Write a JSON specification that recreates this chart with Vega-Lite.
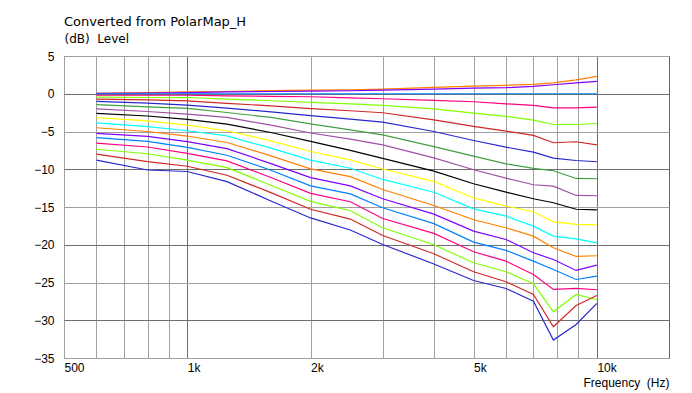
{
"$schema":"https://vega.github.io/schema/vega-lite/v6.json",
"width":605,"height":302,
"autosize":{"type":"none"},
"padding":{"left":64,"top":56,"right":23,"bottom":35},
"background":"white",
"title":{"text":"Converted from PolarMap_H","anchor":"start","frame":"group","font":"DejaVu Sans","fontSize":13,"fontWeight":"normal","color":"#000000","offset":4},
"config":{"view":{"stroke":"#646464","strokeWidth":1},"axis":{"labelFont":"Liberation Sans","labelFontSize":12,"labelColor":"#000000","titleFont":"DejaVu Sans","titleFontSize":12,"titleFontWeight":"normal","titleColor":"#000000"}},
"data":{"values":[
{"s":"c01","f":600,"v":0.05},{"s":"c01","f":800,"v":0.15},{"s":"c01","f":1000,"v":0.25},{"s":"c01","f":1250,"v":0.3},{"s":"c01","f":1600,"v":0.42},{"s":"c01","f":2000,"v":0.47},{"s":"c01","f":2500,"v":0.52},{"s":"c01","f":3000,"v":0.6},{"s":"c01","f":4000,"v":0.85},{"s":"c01","f":5000,"v":1.0},{"s":"c01","f":6000,"v":1.12},{"s":"c01","f":7000,"v":1.25},{"s":"c01","f":7830,"v":1.45},{"s":"c01","f":8900,"v":1.85},{"s":"c01","f":10000,"v":2.3},
{"s":"c02","f":600,"v":0.05},{"s":"c02","f":800,"v":0.1},{"s":"c02","f":1000,"v":0.15},{"s":"c02","f":1250,"v":0.25},{"s":"c02","f":1600,"v":0.3},{"s":"c02","f":2000,"v":0.35},{"s":"c02","f":2500,"v":0.4},{"s":"c02","f":3000,"v":0.47},{"s":"c02","f":4000,"v":0.62},{"s":"c02","f":5000,"v":0.75},{"s":"c02","f":6000,"v":0.8},{"s":"c02","f":7000,"v":0.97},{"s":"c02","f":7830,"v":1.19},{"s":"c02","f":8900,"v":1.45},{"s":"c02","f":10000,"v":1.63},
{"s":"c03","f":600,"v":0},{"s":"c03","f":800,"v":0},{"s":"c03","f":1000,"v":0},{"s":"c03","f":1250,"v":0},{"s":"c03","f":1600,"v":0},{"s":"c03","f":2000,"v":0},{"s":"c03","f":2500,"v":0},{"s":"c03","f":3000,"v":0},{"s":"c03","f":4000,"v":0},{"s":"c03","f":5000,"v":0},{"s":"c03","f":6000,"v":0},{"s":"c03","f":7000,"v":0},{"s":"c03","f":7830,"v":0},{"s":"c03","f":8900,"v":0},{"s":"c03","f":10000,"v":0},
{"s":"c04","f":600,"v":-0.2},{"s":"c04","f":800,"v":-0.2},{"s":"c04","f":1000,"v":-0.2},{"s":"c04","f":1250,"v":-0.27},{"s":"c04","f":1600,"v":-0.35},{"s":"c04","f":2000,"v":-0.4},{"s":"c04","f":2500,"v":-0.55},{"s":"c04","f":3000,"v":-0.66},{"s":"c04","f":4000,"v":-0.88},{"s":"c04","f":5000,"v":-1.06},{"s":"c04","f":6000,"v":-1.33},{"s":"c04","f":7000,"v":-1.55},{"s":"c04","f":7830,"v":-1.86},{"s":"c04","f":8900,"v":-1.86},{"s":"c04","f":10000,"v":-1.77},
{"s":"c05","f":600,"v":-0.45},{"s":"c05","f":800,"v":-0.5},{"s":"c05","f":1000,"v":-0.5},{"s":"c05","f":1250,"v":-0.7},{"s":"c05","f":1600,"v":-0.93},{"s":"c05","f":2000,"v":-1.15},{"s":"c05","f":2500,"v":-1.33},{"s":"c05","f":3000,"v":-1.55},{"s":"c05","f":4000,"v":-2.0},{"s":"c05","f":5000,"v":-2.57},{"s":"c05","f":6000,"v":-3.0},{"s":"c05","f":7000,"v":-3.49},{"s":"c05","f":7830,"v":-4.07},{"s":"c05","f":8900,"v":-4.07},{"s":"c05","f":10000,"v":-3.94},
{"s":"c06","f":600,"v":-0.7},{"s":"c06","f":800,"v":-0.8},{"s":"c06","f":1000,"v":-0.95},{"s":"c06","f":1250,"v":-1.28},{"s":"c06","f":1600,"v":-1.6},{"s":"c06","f":2000,"v":-1.97},{"s":"c06","f":2500,"v":-2.25},{"s":"c06","f":3000,"v":-2.52},{"s":"c06","f":4000,"v":-3.45},{"s":"c06","f":5000,"v":-4.33},{"s":"c06","f":6000,"v":-4.95},{"s":"c06","f":7000,"v":-5.52},{"s":"c06","f":7830,"v":-6.49},{"s":"c06","f":8900,"v":-6.36},{"s":"c06","f":10000,"v":-6.76},
{"s":"c07","f":600,"v":-1.0},{"s":"c07","f":800,"v":-1.25},{"s":"c07","f":1000,"v":-1.5},{"s":"c07","f":1250,"v":-1.9},{"s":"c07","f":1600,"v":-2.39},{"s":"c07","f":2000,"v":-2.9},{"s":"c07","f":2500,"v":-3.36},{"s":"c07","f":3000,"v":-3.76},{"s":"c07","f":4000,"v":-5.0},{"s":"c07","f":5000,"v":-6.19},{"s":"c07","f":6000,"v":-7.07},{"s":"c07","f":7000,"v":-7.73},{"s":"c07","f":7830,"v":-8.53},{"s":"c07","f":8900,"v":-8.84},{"s":"c07","f":10000,"v":-9.01},
{"s":"c08","f":600,"v":-1.45},{"s":"c08","f":800,"v":-1.75},{"s":"c08","f":1000,"v":-1.95},{"s":"c08","f":1250,"v":-2.48},{"s":"c08","f":1600,"v":-3.14},{"s":"c08","f":2000,"v":-4.0},{"s":"c08","f":2500,"v":-4.78},{"s":"c08","f":3000,"v":-5.44},{"s":"c08","f":4000,"v":-7.0},{"s":"c08","f":5000,"v":-8.26},{"s":"c08","f":6000,"v":-9.28},{"s":"c08","f":7000,"v":-9.89},{"s":"c08","f":7830,"v":-10.2},{"s":"c08","f":8900,"v":-11.22},{"s":"c08","f":10000,"v":-11.26},
{"s":"c09","f":600,"v":-2.0},{"s":"c09","f":800,"v":-2.35},{"s":"c09","f":1000,"v":-2.7},{"s":"c09","f":1250,"v":-3.14},{"s":"c09","f":1600,"v":-4.16},{"s":"c09","f":2000,"v":-5.2},{"s":"c09","f":2500,"v":-6.0},{"s":"c09","f":3000,"v":-6.77},{"s":"c09","f":4000,"v":-8.5},{"s":"c09","f":5000,"v":-10.07},{"s":"c09","f":6000,"v":-11.17},{"s":"c09","f":7000,"v":-12.05},{"s":"c09","f":7830,"v":-12.23},{"s":"c09","f":8900,"v":-13.47},{"s":"c09","f":10000,"v":-13.51},
{"s":"c10","f":600,"v":-2.6},{"s":"c10","f":800,"v":-2.95},{"s":"c10","f":1000,"v":-3.4},{"s":"c10","f":1250,"v":-4.03},{"s":"c10","f":1600,"v":-5.13},{"s":"c10","f":2000,"v":-6.3},{"s":"c10","f":2500,"v":-7.5},{"s":"c10","f":3000,"v":-8.55},{"s":"c10","f":4000,"v":-10.25},{"s":"c10","f":5000,"v":-11.92},{"s":"c10","f":6000,"v":-13.03},{"s":"c10","f":7000,"v":-13.91},{"s":"c10","f":7830,"v":-14.44},{"s":"c10","f":8900,"v":-15.3},{"s":"c10","f":10000,"v":-15.37},
{"s":"c11","f":600,"v":-3.15},{"s":"c11","f":800,"v":-3.6},{"s":"c11","f":1000,"v":-4.15},{"s":"c11","f":1250,"v":-4.9},{"s":"c11","f":1600,"v":-6.24},{"s":"c11","f":2000,"v":-7.65},{"s":"c11","f":2500,"v":-8.76},{"s":"c11","f":3000,"v":-9.97},{"s":"c11","f":4000,"v":-11.6},{"s":"c11","f":5000,"v":-13.8},{"s":"c11","f":6000,"v":-14.88},{"s":"c11","f":7000,"v":-15.63},{"s":"c11","f":7830,"v":-16.96},{"s":"c11","f":8900,"v":-17.31},{"s":"c11","f":10000,"v":-17.36},
{"s":"c12","f":600,"v":-3.85},{"s":"c12","f":800,"v":-4.35},{"s":"c12","f":1000,"v":-4.9},{"s":"c12","f":1250,"v":-5.58},{"s":"c12","f":1600,"v":-7.21},{"s":"c12","f":2000,"v":-8.8},{"s":"c12","f":2500,"v":-9.87},{"s":"c12","f":3000,"v":-11.35},{"s":"c12","f":4000,"v":-13.05},{"s":"c12","f":5000,"v":-15.25},{"s":"c12","f":6000,"v":-16.21},{"s":"c12","f":7000,"v":-17.53},{"s":"c12","f":7830,"v":-18.86},{"s":"c12","f":8900,"v":-19.21},{"s":"c12","f":10000,"v":-19.74},
{"s":"c13","f":600,"v":-4.5},{"s":"c13","f":800,"v":-5.0},{"s":"c13","f":1000,"v":-5.6},{"s":"c13","f":1250,"v":-6.46},{"s":"c13","f":1600,"v":-8.23},{"s":"c13","f":2000,"v":-9.95},{"s":"c13","f":2500,"v":-10.97},{"s":"c13","f":3000,"v":-12.68},{"s":"c13","f":4000,"v":-14.8},{"s":"c13","f":5000,"v":-16.69},{"s":"c13","f":6000,"v":-17.75},{"s":"c13","f":7000,"v":-18.86},{"s":"c13","f":7830,"v":-20.4},{"s":"c13","f":8900,"v":-21.55},{"s":"c13","f":10000,"v":-21.46},
{"s":"c14","f":600,"v":-5.25},{"s":"c14","f":800,"v":-5.65},{"s":"c14","f":1000,"v":-6.35},{"s":"c14","f":1250,"v":-7.26},{"s":"c14","f":1600,"v":-9.25},{"s":"c14","f":2000,"v":-11.1},{"s":"c14","f":2500,"v":-12.2},{"s":"c14","f":3000,"v":-13.91},{"s":"c14","f":4000,"v":-15.95},{"s":"c14","f":5000,"v":-18.19},{"s":"c14","f":6000,"v":-19.3},{"s":"c14","f":7000,"v":-21.06},{"s":"c14","f":7830,"v":-21.95},{"s":"c14","f":8900,"v":-23.4},{"s":"c14","f":10000,"v":-22.7},
{"s":"c15","f":600,"v":-5.8},{"s":"c15","f":800,"v":-6.3},{"s":"c15","f":1000,"v":-7.1},{"s":"c15","f":1250,"v":-8.14},{"s":"c15","f":1600,"v":-10.13},{"s":"c15","f":2000,"v":-12.2},{"s":"c15","f":2500,"v":-13.27},{"s":"c15","f":3000,"v":-15.1},{"s":"c15","f":4000,"v":-17.2},{"s":"c15","f":5000,"v":-19.65},{"s":"c15","f":6000,"v":-20.75},{"s":"c15","f":7000,"v":-22.17},{"s":"c15","f":7830,"v":-23.27},{"s":"c15","f":8900,"v":-24.6},{"s":"c15","f":10000,"v":-24.15},
{"s":"c16","f":600,"v":-6.55},{"s":"c16","f":800,"v":-7.05},{"s":"c16","f":1000,"v":-7.9},{"s":"c16","f":1250,"v":-8.9},{"s":"c16","f":1600,"v":-11.1},{"s":"c16","f":2000,"v":-13.2},{"s":"c16","f":2500,"v":-14.3},{"s":"c16","f":3000,"v":-16.52},{"s":"c16","f":4000,"v":-18.5},{"s":"c16","f":5000,"v":-20.93},{"s":"c16","f":6000,"v":-22.17},{"s":"c16","f":7000,"v":-23.93},{"s":"c16","f":7830,"v":-25.92},{"s":"c16","f":8900,"v":-25.79},{"s":"c16","f":10000,"v":-25.96},
{"s":"c17","f":600,"v":-7.35},{"s":"c17","f":800,"v":-7.95},{"s":"c17","f":1000,"v":-8.8},{"s":"c17","f":1250,"v":-9.78},{"s":"c17","f":1600,"v":-12.12},{"s":"c17","f":2000,"v":-14.25},{"s":"c17","f":2500,"v":-15.5},{"s":"c17","f":3000,"v":-17.75},{"s":"c17","f":4000,"v":-20.0},{"s":"c17","f":5000,"v":-22.39},{"s":"c17","f":6000,"v":-23.58},{"s":"c17","f":7000,"v":-25.17},{"s":"c17","f":7830,"v":-28.88},{"s":"c17","f":8900,"v":-26.58},{"s":"c17","f":10000,"v":-27.29},
{"s":"c18","f":600,"v":-8.0},{"s":"c18","f":800,"v":-9.0},{"s":"c18","f":1000,"v":-9.6},{"s":"c18","f":1250,"v":-10.8},{"s":"c18","f":1600,"v":-13.1},{"s":"c18","f":2000,"v":-15.3},{"s":"c18","f":2500,"v":-16.6},{"s":"c18","f":3000,"v":-18.77},{"s":"c18","f":4000,"v":-21.2},{"s":"c18","f":5000,"v":-23.58},{"s":"c18","f":6000,"v":-24.9},{"s":"c18","f":7000,"v":-26.58},{"s":"c18","f":7830,"v":-30.86},{"s":"c18","f":8900,"v":-28.04},{"s":"c18","f":10000,"v":-26.72},
{"s":"c19","f":600,"v":-8.8},{"s":"c19","f":800,"v":-10.1},{"s":"c19","f":1000,"v":-10.3},{"s":"c19","f":1250,"v":-11.64},{"s":"c19","f":1600,"v":-14.2},{"s":"c19","f":2000,"v":-16.45},{"s":"c19","f":2500,"v":-18.05},{"s":"c19","f":3000,"v":-19.96},{"s":"c19","f":4000,"v":-22.55},{"s":"c19","f":5000,"v":-24.73},{"s":"c19","f":6000,"v":-25.79},{"s":"c19","f":7000,"v":-27.47},{"s":"c19","f":7830,"v":-32.63},{"s":"c19","f":8900,"v":-30.56},{"s":"c19","f":10000,"v":-27.77}
]},
"mark":{"type":"line","strokeWidth":1.2,"interpolate":"linear","clip":true},
"encoding":{
"x":{"field":"f","type":"quantitative","scale":{"type":"log","domain":[500,15000],"nice":false,"zero":false},
"axis":{"values":[500,600,700,800,900,1000,2000,3000,4000,5000,6000,7000,8000,9000,10000],
"labelExpr":"datum.value==500?'500':datum.value==1000?'1k':datum.value==2000?'2k':datum.value==5000?'5k':datum.value==10000?'10k':''",
"labelAlign":"left","labelBaseline":"top","labelOverlap":false,"labelFlush":false,"labelPadding":4,"ticks":false,"domain":false,
"grid":true,"gridColor":{"condition":{"test":"datum.value==1000||datum.value==10000","value":"#6e6e6e"},"value":"#a0a0a0"},"gridWidth":1,
"title":"Frequency \u00a0(Hz)","titleFont":"Liberation Sans","titleFontSize":12,"titleAnchor":"end","titleAlign":"right","titleBaseline":"alphabetic","titleX":605,"titleY":28}},
"y":{"field":"v","type":"quantitative","scale":{"domain":[-35,5],"nice":false,"zero":false},
"axis":{"values":[-35,-30,-25,-20,-15,-10,-5,0,5],"labelPadding":10,"ticks":false,"domain":false,
"grid":true,"gridColor":{"condition":{"test":"datum.value%10==0","value":"#6e6e6e"},"value":"#a0a0a0"},"gridWidth":1,
"title":"(dB) \u00a0Level","titleAngle":0,"titleAlign":"left","titleBaseline":"alphabetic","titleX":0,"titleY":-13.5,"titleFontSize":12}},
"color":{"field":"s","type":"nominal","legend":null,
"scale":{"domain":["c01","c02","c03","c04","c05","c06","c07","c08","c09","c10","c11","c12","c13","c14","c15","c16","c17","c18","c19"],
"range":["#ff8000","#8000ff","#0080ff","#ff0080","#80ff00","#d02828","#2828d0","#40a040","#a050a8","#000000","#ffff00","#00ffff","#ff8000","#8000ff","#0080ff","#ff0080","#80ff00","#d02828","#2828d0"]}}
}
}
